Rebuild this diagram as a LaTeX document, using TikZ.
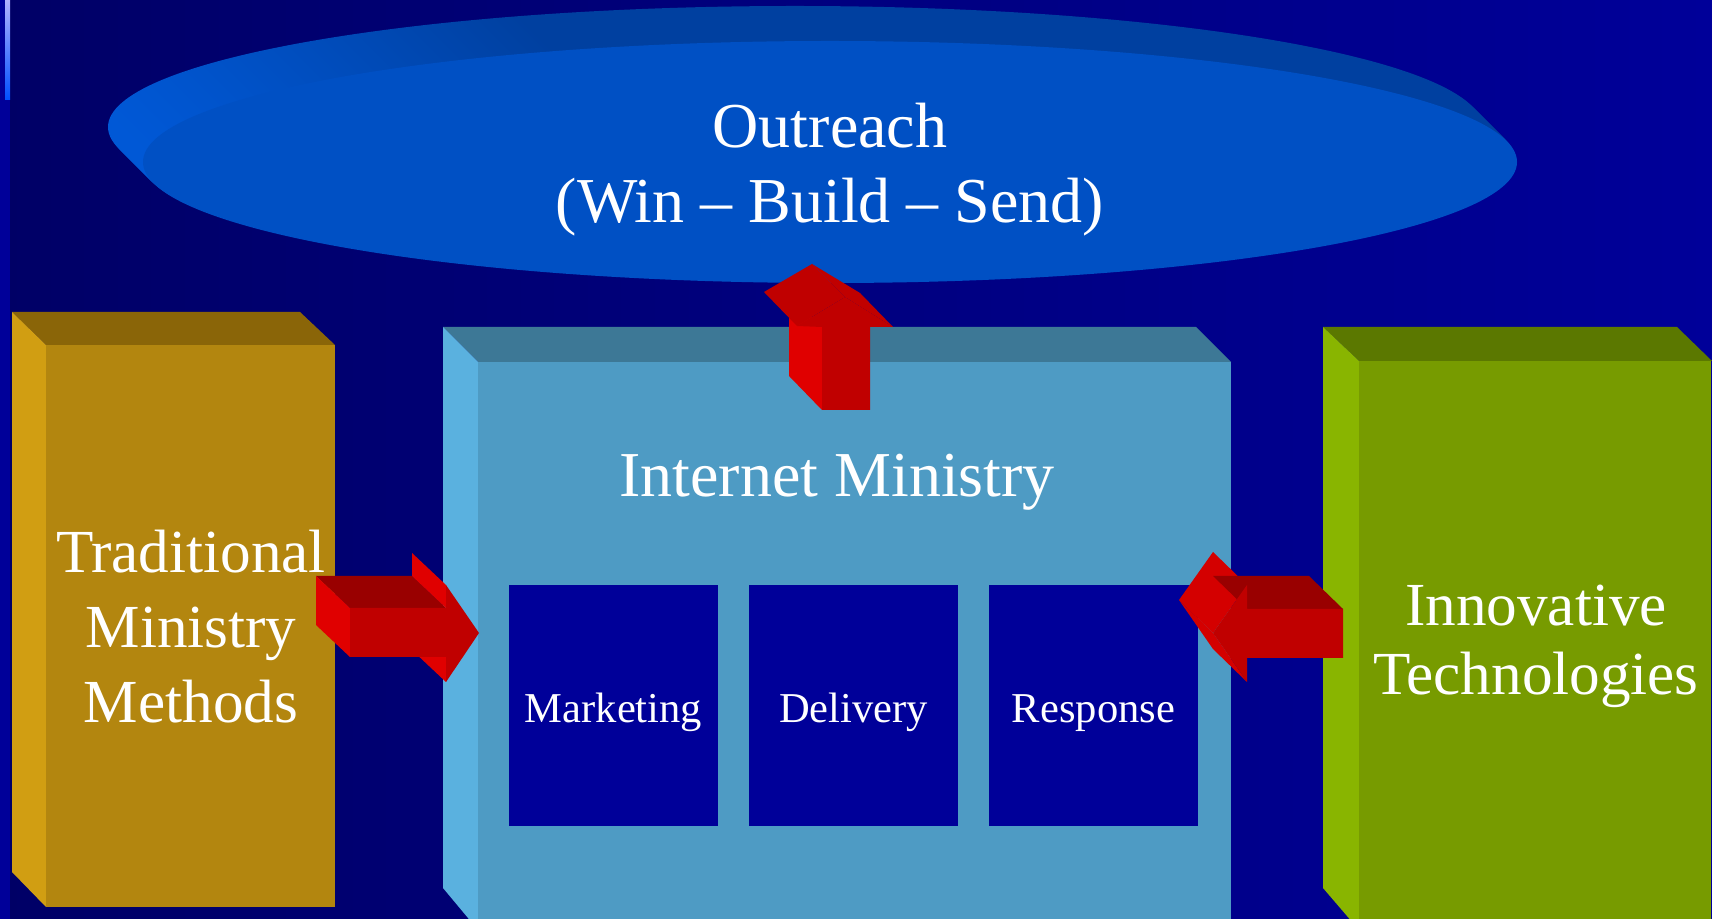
\documentclass[tikz,border=0pt]{standalone}
\usepackage{fontspec}
\setmainfont{Liberation Serif}

\definecolor{bgdark}{RGB}{0,0,102}
\definecolor{bglight}{RGB}{0,0,153}
\definecolor{goldfront}{RGB}{179,134,15}
\definecolor{goldtop}{RGB}{138,101,8}
\definecolor{goldside}{RGB}{209,158,18}
\definecolor{skyfront}{RGB}{78,155,196}
\definecolor{skytop}{RGB}{61,120,150}
\definecolor{skyside}{RGB}{90,177,223}
\definecolor{limefront}{RGB}{119,155,0}
\definecolor{limetop}{RGB}{91,120,0}
\definecolor{limeside}{RGB}{137,181,0}
\definecolor{cellblue}{RGB}{0,0,153}
\definecolor{ovalfront}{RGB}{0,80,196}
\definecolor{ovalrimL}{RGB}{0,96,232}
\definecolor{ovalrimM}{RGB}{0,64,160}
\definecolor{ovalrimR}{RGB}{0,74,176}
\definecolor{arrfront}{RGB}{192,0,0}
\definecolor{arrtop}{RGB}{153,0,0}
\definecolor{arrside}{RGB}{224,0,0}
\definecolor{arrhead}{RGB}{212,0,0}

\pgfdeclarehorizontalshading{ovalrim}{100bp}{color(0bp)=(ovalrimL); color(20bp)=(ovalrimL); color(40bp)=(ovalrimM); color(75bp)=(ovalrimM); color(100bp)=(ovalrimR)}

\begin{document}
\begin{tikzpicture}[x = 0.01cm, y = -0.01cm,
  lbl/.style = {text = white, align = center, inner sep = 0},
  cell/.style = {fill = cellblue, text = white, inner sep = 0,
    minimum width = 2.09cm, minimum height = 2.41cm,
    text height = 9.4pt, text depth = 0pt, font = \fontsize{12.1}{14}\selectfont}]
\useasboundingbox (0, 0) rectangle (1712, 919);
\clip (0, 0) rectangle (1712, 919);

\shade[left color = bgdark, right color = bglight] (0, 0) rectangle (1712, 919);
\fill[cellblue] (0, 0) rectangle (10, 919);
\shade[top color = {rgb,255:red,176;green,176;blue,255}, bottom color = {rgb,255:red,0;green,80;blue,255}] (5, 0) rectangle (10, 100);

\foreach \d in {0, ..., 34}
  \shade[shading = ovalrim] (795 + \d, 127 + \d) ellipse [x radius = 687, y radius = 121];
\fill[ovalfront] (830, 162) ellipse [x radius = 687, y radius = 121];

\fill[goldtop] (12, 312) -- (300, 312) -- (335, 345) -- (46, 345) -- cycle;
\fill[goldside] (12, 312) -- (46, 345) -- (46, 907) -- (12, 872) -- cycle;
\fill[goldfront] (46, 345) rectangle (335, 907);

\fill[skytop] (443, 327) -- (1196, 327) -- (1231, 362) -- (478, 362) -- cycle;
\fill[skyside] (443, 327) -- (478, 362) -- (478, 930) -- (443, 888) -- cycle;
\fill[skyfront] (478, 362) rectangle (1231, 930);

\fill[limetop] (1323, 327) -- (1677, 327) -- (1712, 361) -- (1359, 361) -- cycle;
\fill[limeside] (1323, 327) -- (1359, 361) -- (1359, 930) -- (1323, 888) -- cycle;
\fill[limefront] (1359, 361) rectangle (1711, 930);

\node[cell] (mkt) at (613.5, 705.5) {Marketing};
\node[cell] (dlv) at (853.5, 705.5) {Delivery};
\node[cell] (rsp) at (1093.5, 705.5) {Response};

\fill[arrtop] (316, 576) -- (412, 576) -- (446, 608) -- (350, 608) -- cycle;
\fill[arrside] (316, 576) -- (350, 608) -- (350, 657) -- (316, 625) -- cycle;
\fill[arrside] (412, 553) -- (446, 585) -- (446, 608) -- (412, 576) -- cycle;
\fill[arrside] (412, 625) -- (446, 657) -- (446, 682) -- (412, 650) -- cycle;
\fill[arrfront] (350, 608) -- (446, 608) -- (446, 585) -- (479, 633) -- (446, 682) -- (446, 657) -- (350, 657) -- cycle;

\fill[arrhead] (1179, 600) -- (1213, 552) -- (1247, 585) -- (1213, 633) -- cycle;
\fill[arrhead] (1179, 600) -- (1213, 633) -- (1247, 682) -- (1213, 649) -- cycle;
\fill[arrtop] (1213, 576) -- (1309, 576) -- (1343, 609) -- (1247, 609) -- cycle;
\fill[arrfront] (1343, 609) -- (1247, 609) -- (1247, 585) -- (1213, 633) -- (1247, 682) -- (1247, 658) -- (1343, 658) -- cycle;

\fill[arrside] (789, 293) -- (822, 327) -- (822, 410) -- (789, 376) -- cycle;
\fill[arrfront] (764, 292) -- (812, 264) -- (845, 297) -- (797, 326) -- cycle;
\fill[arrfront] (812, 264) -- (860, 293) -- (893, 327) -- (845, 297) -- cycle;
\fill[arrfront] (822, 410) -- (822, 327) -- (797, 326) -- (845, 297) -- (893, 327) -- (870, 327) -- (870, 410) -- cycle;

\node[lbl, anchor = base, font = \fontsize{18.2}{21.6}\selectfont] (outreach) at (830, 223) {Outreach\\(Win -- Build -- Send)};
\node[lbl, anchor = base, font = \fontsize{18.2}{21.6}\selectfont] (inet) at (837, 497) {Internet Ministry};
\node[lbl, anchor = base, font = \fontsize{17.4}{21.3}\selectfont] (trad) at (191, 722) {Traditional\\Ministry\\Methods};
\node[lbl, anchor = base, font = \fontsize{17.4}{19.9}\selectfont] (innov) at (1536, 695) {Innovative\\Technologies};
\end{tikzpicture}
\end{document}
